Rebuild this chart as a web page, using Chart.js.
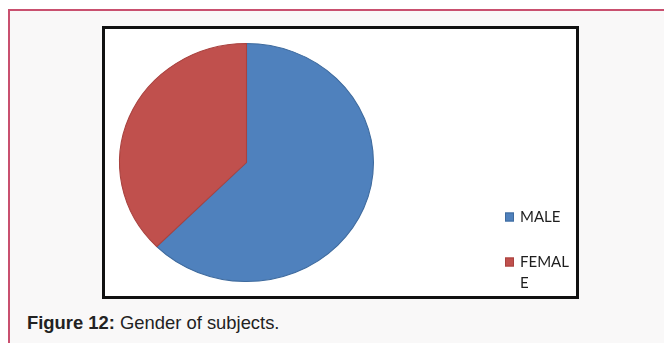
<!DOCTYPE html>
<html>
<head>
<meta charset="utf-8">
<script src="https://cdn.jsdelivr.net/npm/chart.js@4.4.1/dist/chart.umd.min.js"></script>
<style>
  html, body { margin: 0; padding: 0; background: #fff; }
  body { width: 664px; height: 343px; overflow: hidden; position: relative; }
  #frame {
    position: absolute; left: 8px; top: 9px; width: 720px; height: 400px;
    border-left: 2px solid #c9506f; border-top: 2px solid #c9506f;
    background: #f9f8f8;
  }
  #box {
    position: absolute; left: 102px; top: 26px; width: 471px; height: 267px;
    border: 3px solid #111; background: #fff;
  }
  #box canvas { display: block; }
  #caption {
    position: absolute; left: 27px; top: 312px;
    font-family: "Liberation Sans", Arial, sans-serif; font-size: 18.4px; color: #222;
    white-space: nowrap;
  }
</style>
</head>
<body>
<div id="frame"></div>
<div id="box"><canvas id="genderChart" width="471" height="267"></canvas></div>
<div id="caption"><b>Figure 12:</b> Gender of subjects.</div>

<script>
// Chart data
const labels = ['MALE', 'FEMALE'];
const values = [62.5, 37.5];
const colors = ['#4f81bd', '#c0504d'];
const edgeColors = ['#3f6b9e', '#a9423f'];

// the original pie is a bit wider than tall
const stretchX = 1.067;

const ellipsePie = {
    id: 'ellipsePie',
    beforeDatasetsDraw(chart) {
        const arc = chart.getDatasetMeta(0).data[0];
        const ctx = chart.ctx;
        ctx.save();
        ctx.translate(arc.x, arc.y);
        ctx.scale(stretchX, 1);
        ctx.translate(-arc.x, -arc.y);
    },
    afterDatasetsDraw(chart) {
        chart.ctx.restore();
    }
};

// Excel style legend, text wrapped by character when too wide
function wrapChars(ctx, text, maxWidth) {
    const lines = [];
    let line = '';
    for (const ch of text) {
        if (line && ctx.measureText(line + ch).width > maxWidth) {
            lines.push(line);
            line = ch;
        } else {
            line += ch;
        }
    }
    lines.push(line);
    return lines;
}

const sideLegend = {
    id: 'sideLegend',
    afterDraw(chart) {
        const ctx = chart.ctx;
        const names = chart.data.labels;
        const fills = chart.data.datasets[0].backgroundColor;
        const left = 400, firstY = 188, gap = 45, lineH = 21;
        ctx.save();
        ctx.font = '15px Lato, "Open Sans", sans-serif';
        ctx.textBaseline = 'middle';
        names.forEach((name, i) => {
            const y = firstY + i * gap;
            ctx.fillStyle = fills[i];
            ctx.fillRect(left, y - 4.5, 9, 9);
            ctx.strokeStyle = edgeColors[i];
            ctx.lineWidth = 1;
            ctx.strokeRect(left + 0.5, y - 4, 8, 8);
            ctx.fillStyle = '#1e1e1e';
            wrapChars(ctx, name, 52).forEach((ln, k) => {
                ctx.fillText(ln, left + 15, y + k * lineH);
            });
        });
        ctx.restore();
    }
};

new Chart(document.getElementById('genderChart'), {
    type: 'pie',
    data: {
        labels: labels,
        datasets: [{
            data: values,
            backgroundColor: colors,
            borderColor: edgeColors,
            borderWidth: 1
        }]
    },
    options: {
        responsive: false,
        animation: false,
        layout: {
            padding: { left: 22, top: 14, bottom: 14, right: 210 }
        },
        plugins: {
            legend: { display: false },
            tooltip: { enabled: false }
        }
    },
    plugins: [ellipsePie, sideLegend]
});
</script>
</body>
</html>
